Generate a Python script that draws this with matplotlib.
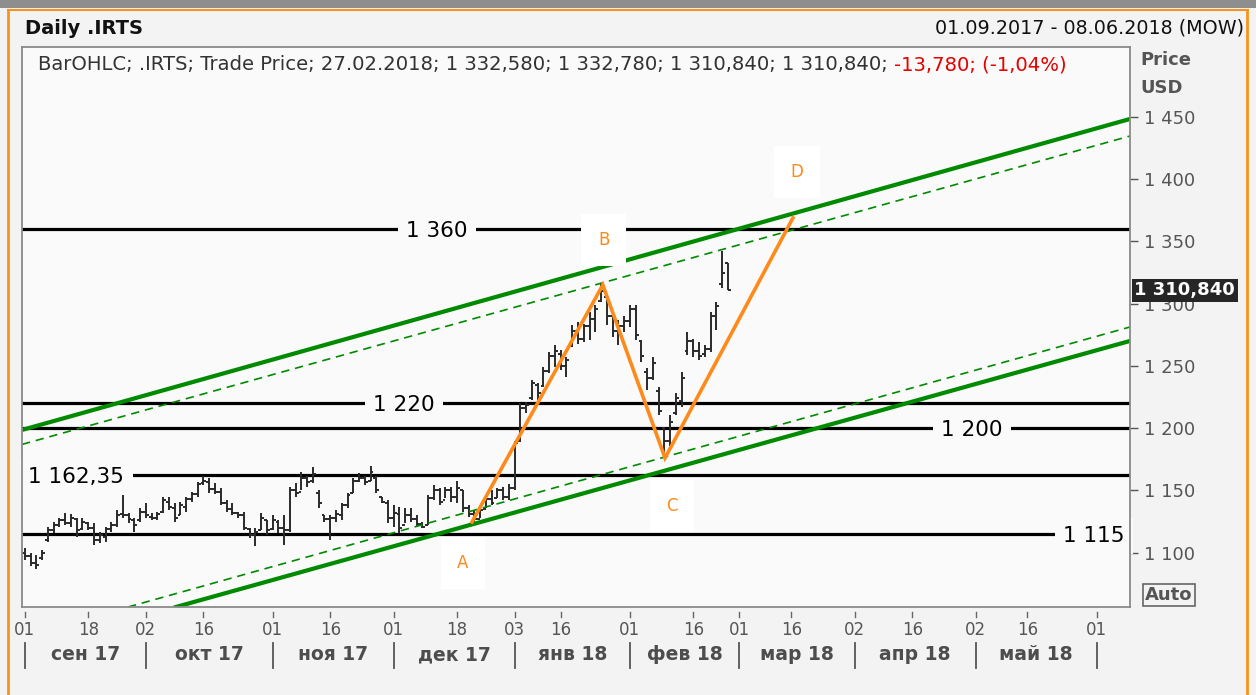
import numpy as np
import pandas as pd
import matplotlib
matplotlib.use("Agg")
import matplotlib.pyplot as plt
from matplotlib.collections import LineCollection
from matplotlib.lines import Line2D
from matplotlib.patches import Rectangle
import matplotlib.transforms as mtrans

plt.rcParams['font.family'] = ['DejaVu Sans']

# ---------------- data ----------------
cal_start, cal_end = '2017-09-01', '2018-06-08'
holidays = ['2017-11-06', '2018-01-01', '2018-01-02', '2018-01-08', '2018-02-23',
            '2018-03-08', '2018-03-09', '2018-04-30', '2018-05-01', '2018-05-09']
extra_trading_days = ['2018-04-28']

bar_open = [1100, 1097, 1092, 1096, 1110, 1118, 1122, 1126, 1124, 1127, 1119, 1124, 1120, 1110, 1113, 1119, 1122, 1131, 1130, 1126, 1126,
            1133, 1129, 1128, 1133, 1141, 1136, 1130, 1137, 1143, 1147, 1156, 1157, 1151, 1149, 1140, 1135, 1132, 1130, 1119, 1114, 1118, 1126,
            1119, 1125, 1120, 1118, 1150, 1149, 1160, 1158, 1148, 1130, 1127, 1128, 1130, 1138, 1148, 1158, 1160, 1158, 1160, 1145, 1140,
            1128, 1131, 1122, 1130, 1127, 1123, 1122, 1144, 1150, 1142, 1150, 1145, 1150, 1136, 1131, 1127, 1135, 1143, 1144, 1150, 1145,
            1152, 1190, 1216, 1224, 1235, 1234, 1246, 1258, 1260, 1250, 1266, 1278, 1272, 1282, 1288, 1302, 1305, 1290, 1278, 1282,
            1286, 1296, 1270, 1245, 1240, 1230, 1200, 1190, 1212, 1222, 1262, 1270, 1262, 1260, 1264, 1290, 1316, 1332.58]
bar_high = [1104, 1100, 1098, 1102, 1121, 1125, 1128, 1132, 1131, 1128, 1128, 1125, 1124, 1117, 1121, 1125, 1134, 1146, 1132, 1128, 1136,
            1140, 1132, 1133, 1145, 1145, 1140, 1141, 1145, 1149, 1157, 1162, 1160, 1156, 1152, 1142, 1140, 1133, 1133, 1120, 1120, 1132, 1126,
            1130, 1126, 1130, 1153, 1156, 1165, 1162, 1169, 1150, 1130, 1130, 1134, 1140, 1148, 1160, 1164, 1162, 1170, 1162, 1145, 1142,
            1138, 1137, 1136, 1136, 1130, 1125, 1146, 1154, 1152, 1153, 1153, 1158, 1150, 1138, 1134, 1136, 1146, 1150, 1152, 1153, 1155,
            1190, 1220, 1221, 1239, 1236, 1249, 1261, 1267, 1263, 1257, 1283, 1285, 1284, 1293, 1299, 1316, 1307, 1291, 1287, 1290,
            1299, 1299, 1271, 1248, 1257, 1233, 1201, 1211, 1228, 1245, 1277, 1272, 1269, 1267, 1293, 1301, 1342, 1332.78]
bar_low = [1094, 1089, 1087, 1094, 1109, 1116, 1121, 1122, 1121, 1113, 1118, 1118, 1106, 1108, 1109, 1117, 1121, 1128, 1124, 1117, 1125,
           1128, 1126, 1126, 1132, 1134, 1125, 1130, 1133, 1141, 1145, 1154, 1148, 1147, 1138, 1133, 1130, 1128, 1118, 1112, 1105, 1118, 1114,
           1118, 1116, 1106, 1117, 1145, 1150, 1153, 1156, 1136, 1125, 1110, 1125, 1126, 1136, 1148, 1157, 1154, 1158, 1148, 1140, 1124,
           1121, 1116, 1124, 1125, 1121, 1120, 1122, 1142, 1138, 1144, 1141, 1140, 1133, 1129, 1124, 1128, 1136, 1138, 1144, 1142, 1142,
           1150, 1189, 1212, 1223, 1223, 1233, 1244, 1249, 1247, 1241, 1265, 1268, 1269, 1271, 1277, 1301, 1283, 1273, 1267, 1277,
           1281, 1271, 1253, 1231, 1239, 1211, 1177, 1186, 1211, 1217, 1259, 1257, 1255, 1257, 1261, 1279, 1313, 1310.84]
bar_close = [1097, 1092, 1090, 1100, 1118, 1122, 1126, 1124, 1128, 1118, 1125, 1120, 1110, 1114, 1119, 1122, 1130, 1130, 1127, 1122, 1133,
             1130, 1128, 1131, 1142, 1137, 1128, 1138, 1143, 1147, 1155, 1158, 1151, 1149, 1140, 1135, 1132, 1130, 1120, 1114, 1117, 1128, 1118,
             1126, 1120, 1118, 1150, 1148, 1160, 1157, 1163, 1140, 1127, 1128, 1131, 1138, 1146, 1158, 1160, 1157, 1165, 1150, 1141, 1128,
             1132, 1120, 1130, 1127, 1123, 1121, 1144, 1150, 1141, 1150, 1145, 1152, 1136, 1131, 1127, 1134, 1143, 1140, 1150, 1145, 1152,
             1188, 1216, 1219, 1236, 1228, 1246, 1258, 1262, 1250, 1255, 1278, 1272, 1282, 1288, 1296, 1310, 1290, 1278, 1282, 1286,
             1296, 1275, 1258, 1240, 1252, 1214, 1190, 1205, 1224, 1240, 1270, 1262, 1258, 1264, 1290, 1298, 1324.62, 1310.84]

levels = [1360, 1220, 1200, 1162.35, 1115]
level_labels = ['1 360', '1 220', '1 200', '1 162,35', '1 115']

# pattern A-B-C-D (trading-day index, price)
pattern_names = ['A', 'B', 'C', 'D']
pattern_x = [77.6, 100.3, 111.1, 133.3]
pattern_y = [1124.7, 1315.1, 1176.1, 1368.9]

# channel lines (trading-day index, price) start/end
channel_x0 = [-0.5, -0.5, 26.2, 17.9]
channel_y0 = [1198.6, 1187.0, 1056.4, 1056.4]
channel_x1 = [191.8, 191.8, 191.8, 191.8]
channel_y1 = [1448.4, 1434.7, 1270.1, 1281.3]
channel_dashed = [False, True, False, True]

month_labels = ['сен 17', 'окт 17', 'ноя 17', 'дек 17', 'янв 18', 'фев 18', 'мар 18', 'апр 18', 'май 18']
y_ticks = [1100, 1150, 1200, 1250, 1300, 1350, 1400, 1450]

legend_main = 'BarOHLC; .IRTS; Trade Price; 27.02.2018; 1 332,580; 1 332,780; 1 310,840; 1 310,840; '
legend_change = '-13,780; (-1,04%)'
last_price_label = '1 310,840'
last_price = 1310.84

# ---------------- calendar ----------------
days = pd.bdate_range(cal_start, cal_end).difference(pd.to_datetime(holidays)).union(pd.to_datetime(extra_trading_days))
days = pd.DatetimeIndex(sorted(days))
n = len(bar_close)
xs = np.arange(n)

# ---------------- figure ----------------
W, H = 1256, 695
fig = plt.figure(figsize=(W / 100, H / 100), dpi=100)
fig.patch.set_facecolor('#F3F3F3')

def fx(px):
    return px / W

def fy(py):
    return 1 - py / H

# frame decorations
fig.add_artist(Rectangle((0, fy(8)), 1, 8 / H, transform=fig.transFigure, facecolor='#8E8E8E', edgecolor='none'))
orange = '#F7941D'
fig.add_artist(Line2D([fx(8), fx(1248)], [fy(10), fy(10)], transform=fig.transFigure, color=orange, lw=1.5))
fig.add_artist(Line2D([fx(8), fx(8)], [fy(10), 0], transform=fig.transFigure, color=orange, lw=2))
fig.add_artist(Line2D([fx(1247), fx(1247)], [fy(10), 0], transform=fig.transFigure, color=orange, lw=2))

fig.text(fx(25), fy(28), 'Daily .IRTS', fontsize=14, fontweight='bold', va='center', ha='left', color='#111111')
fig.text(fx(1244), fy(28), '01.09.2017 - 08.06.2018 (MOW)', fontsize=13.8, va='center', ha='right', color='#111111')

ax_left, ax_right, ax_top, ax_bottom = 22, 1130, 47, 607
ax = fig.add_axes([fx(ax_left), fy(ax_bottom), (ax_right - ax_left) / W, (ax_bottom - ax_top) / H])
plot_bg = '#FAFAFA'
ax.set_facecolor(plot_bg)
ax.set_xlim(-0.5, 191.8)
ax.set_ylim(1056.4, 1506.2)
for s in ax.spines.values():
    s.set_color('#8A8A8A')
    s.set_linewidth(1.3)
    s.set_zorder(6)

# horizontal levels
for lv in levels:
    ax.axhline(lv, color='black', lw=2.3, zorder=2)

level_pos = [(71.5, 'center'), (65.8, 'center'), (164.4, 'center'), (0.6, 'left'), (190.9, 'right')]
for lv, lab, (lx, ha) in zip(levels, level_labels, level_pos):
    ax.text(lx, lv, lab, ha=ha, va='center_baseline', fontsize=15.5, color='black', zorder=2.6,
            bbox=dict(facecolor=plot_bg, edgecolor='none', pad=6))

# OHLC bars
segs = []
hw = 0.5
for i in range(n):
    segs.append([(xs[i], bar_low[i]), (xs[i], bar_high[i])])
    segs.append([(xs[i] - hw, bar_open[i]), (xs[i], bar_open[i])])
    segs.append([(xs[i], bar_close[i]), (xs[i] + hw, bar_close[i])])
ax.add_collection(LineCollection(segs, colors='#2A2A2A', linewidths=1.4, zorder=2.5))

# channel
green = '#008A00'
for x0, y0, x1, y1, dsh in zip(channel_x0, channel_y0, channel_x1, channel_y1, channel_dashed):
    if dsh:
        ax.plot([x0, x1], [y0, y1], color=green, lw=1.2, dashes=(5, 3.5), zorder=3)
    else:
        ax.plot([x0, x1], [y0, y1], color=green, lw=3.0, zorder=3)

# ABCD pattern
ax.plot(pattern_x, pattern_y, color='#FF8A1C', lw=2.6, zorder=4, solid_joinstyle='miter')
label_offsets = [(-6.5, -29.5), (0.7, 32.4), (5, -34.6), (2.9, 33)]
for name, px_, py_, off in zip(pattern_names, pattern_x, pattern_y, label_offsets):
    ax.annotate(name, xy=(px_, py_), xytext=off, textcoords='offset points', ha='center', va='center',
                fontsize=12, color='#FF8A1C', zorder=5,
                bbox=dict(boxstyle='square,pad=1.0', facecolor='white', edgecolor='none'))

# y axis on right
ax.yaxis.tick_right()
ax.set_yticks(y_ticks)
ax.set_yticklabels([f"{v:,}".replace(',', ' ') for v in y_ticks])
ax.tick_params(axis='y', direction='out', length=6, width=1, colors='#555555', pad=4, labelsize=13)
ax.set_xticks([])

# x axis: custom day ticks and month labels
blend = mtrans.blended_transform_factory(ax.transData, ax.transAxes)
axh = ax_bottom - ax_top

def ay(py):
    return (ax_bottom - py) / axh

months = pd.period_range('2017-09', '2018-06', freq='M')
month_starts = []
for m in months:
    sel = days[days >= m.start_time]
    if not len(sel) or sel[0].month != m.month:
        continue
    first = sel[0]
    i1 = days.get_loc(first)
    month_starts.append(i1)
    ticks = [(i1, first.day)]
    mid = days[(days >= m.start_time + pd.Timedelta(days=15)) & (days <= m.end_time)]
    if len(mid):
        ticks.append((days.get_loc(mid[0]), mid[0].day))
    for ti, dd in ticks:
        ax.plot([ti, ti], [ay(612), ay(617)], transform=blend, clip_on=False, color='#666666', lw=1)
        ax.text(ti, ay(630), f"{dd:02d}", transform=blend, ha='center', va='center', fontsize=12,
                color='#555555', clip_on=False)

for k, i1 in enumerate(month_starts):
    ax.plot([i1, i1], [ay(643), ay(668)], transform=blend, clip_on=False, color='#555555', lw=1.3)
    if k + 1 < len(month_starts) and k < len(month_labels):
        cx = (i1 + month_starts[k + 1]) / 2
        ax.text(cx, ay(655), month_labels[k], transform=blend, ha='center', va='center', fontsize=13.5,
                fontweight='bold', color='#4D4D4D', clip_on=False)

# legend line
t1 = ax.text(0.014, ay(65), legend_main, transform=ax.transAxes, ha='left', va='center', fontsize=14.1,
             color='#333333')
fig.canvas.draw()
bb = t1.get_window_extent()
inv = ax.transAxes.inverted()
xend = inv.transform((bb.x1, bb.y0))[0]
ax.text(xend, ay(65), legend_change, transform=ax.transAxes, ha='left', va='center', fontsize=14.1, color='#E60000')

# right side labels
fig.text(fx(1140), fy(60), 'Price', fontsize=13, fontweight='bold', color='#555555', va='center', ha='left')
fig.text(fx(1140), fy(88), 'USD', fontsize=13, fontweight='bold', color='#555555', va='center', ha='left')
ytrans = mtrans.blended_transform_factory(ax.transAxes, ax.transData)
ax.text(1.004, last_price, last_price_label, transform=ytrans, ha='left', va='center', fontsize=13,
        fontweight='bold', color='white', zorder=10, clip_on=False,
        bbox=dict(boxstyle='square,pad=0.15', facecolor='#262626', edgecolor='none'))
fig.text(fx(1169), fy(595), 'Auto', fontsize=13, fontweight='bold', color='#555555', va='center', ha='center',
         bbox=dict(boxstyle='square,pad=0.1', facecolor='none', edgecolor='#666666', lw=1.2))

fig.savefig('out.png', dpi=100, facecolor=fig.get_facecolor())
